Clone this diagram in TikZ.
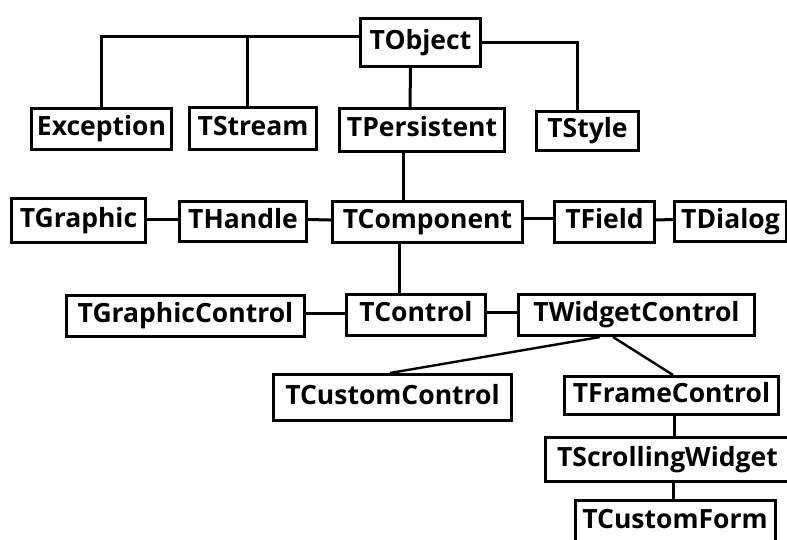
\documentclass[tikz,border=0pt]{standalone}
\usepackage{fontspec}
\setmainfont{Open Sans}

\begin{document}
\begin{tikzpicture}[x=1pt, y=-1pt,
    cls/.style={draw, line width=3pt, inner sep=0pt, text height=19pt, text depth=6pt,
      font=\fontsize{26.5}{29}\selectfont\bfseries},
    link/.style={line width=3pt},
    slant/.style={line width=2.4pt}]
  \useasboundingbox (0,0) rectangle (787,539);
  % top row
  \node[cls, minimum width=120, minimum height=48] (obj) at (420.5, 42.5) {TObject};
  \node[cls, minimum width=140, minimum height=41] (exc) at (101.5, 129) {Exception};
  \node[cls, minimum width=127, minimum height=42] (strm) at (253, 128.5) {TStream};
  \node[cls, minimum width=165, minimum height=43] (pers) at (422, 130) {TPersistent};
  \node[cls, minimum width=102, minimum height=39] (sty) at (587.5, 131) {TStyle};
  % component row
  \node[cls, minimum width=134, minimum height=44] (gr) at (78.5, 220.5) {TGraphic};
  \node[cls, minimum width=127, minimum height=40] (hnd) at (243, 221.5) {THandle};
  \node[cls, minimum width=190, minimum height=41] (comp) at (427.5, 222) {TComponent};
  \node[cls, minimum width=100, minimum height=41] (fld) at (604.5, 222) {TField};
  \node[cls, minimum width=112, minimum height=40] (dlg) at (730.5, 221.5) {TDialog};
  % control row
  \node[cls, minimum width=238, minimum height=41] (grc) at (185.5, 316) {TGraphicControl};
  \node[cls, minimum width=139, minimum height=41] (ctl) at (416, 315) {TControl};
  \node[cls, minimum width=236, minimum height=41] (wc) at (636.5, 315) {TWidgetControl};
  % widget branch
  \node[cls, minimum width=238, minimum height=46] (cc) at (392.5, 397.5) {TCustomControl};
  \node[cls, minimum width=214, minimum height=38] (fc) at (671.5, 395.5) {TFrameControl};
  \node[cls, minimum width=244, minimum height=44] (sw) at (667.5, 459.5) {TScrollingWidget};
  \node[cls, minimum width=200, minimum height=44] (cf) at (675, 522) {TCustomForm};

  \draw [link] ([yshift=6]obj.west) -| (exc.north);
  \draw [link] ([yshift=6]obj.west) -| ([xshift=-6]strm.north);
  \draw [link] (obj.east) -| ([xshift=-10]sty.north);
  \draw [link] ([xshift=-10]obj.south) -- ([xshift=-12]pers.north);
  \draw [link] ([xshift=-19]pers.south) -- ([xshift=-24.5]comp.north);
  \draw [link] ([yshift=1.5]gr.east) -- ([yshift=1.5]gr.east -| hnd.west);
  \draw [link] ([yshift=2]hnd.east) -- ([yshift=2]comp.west);
  \draw [link] ([yshift=4]comp.east) -- ([yshift=4]fld.west);
  \draw [link] ([yshift=2]fld.east) -- ([yshift=2]dlg.west);
  \draw [link] ([xshift=-28.5]comp.south) -- ([xshift=-17]ctl.north);
  \draw [link] ([yshift=3]grc.east) -- ([yshift=2]ctl.west);
  \draw [link] ([yshift=3]ctl.east) -- ([yshift=3]wc.west);
  \draw [slant] ([xshift=-36.5]wc.south) -- ([xshift=-2.5]cc.north);
  \draw [slant] ([xshift=-23.5]wc.south) -- ([xshift=1.5]fc.north);
  \draw [link] ([xshift=2.5]fc.south) -- ([xshift=6.5]sw.north);
  \draw [link] ([xshift=5.5]sw.south) -- ([xshift=-2]cf.north);
\end{tikzpicture}
\end{document}
